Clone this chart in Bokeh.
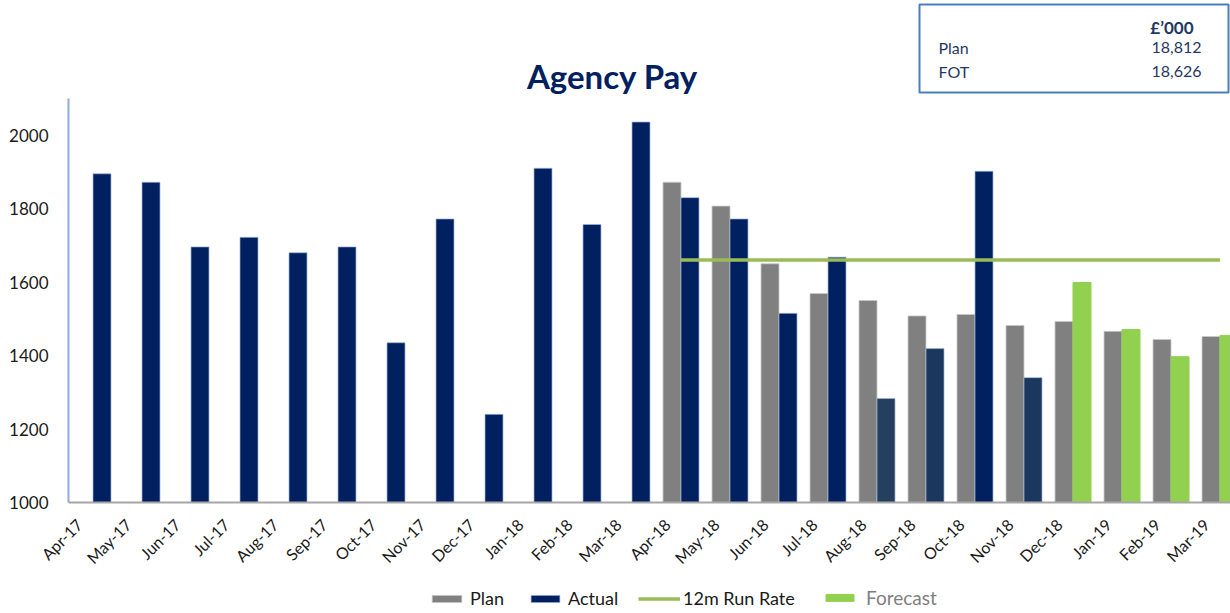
import numpy as np
from bokeh.plotting import figure
from bokeh.layouts import column
from bokeh.models import (Range1d, FixedTicker, LinearAxis, Label, BoxAnnotation,
                          Legend, LegendItem, ColumnDataSource)
from bokeh.transform import dodge
from bokeh.embed import file_html
from bokeh.resources import INLINE

# ---------------- data ----------------
months = ["Apr-17", "May-17", "Jun-17", "Jul-17", "Aug-17", "Sep-17", "Oct-17", "Nov-17",
          "Dec-17", "Jan-18", "Feb-18", "Mar-18", "Apr-18", "May-18", "Jun-18", "Jul-18",
          "Aug-18", "Sep-18", "Oct-18", "Nov-18", "Dec-18", "Jan-19", "Feb-19", "Mar-19"]

plan_months = months[12:]
plan = [1872, 1807, 1650, 1569, 1550, 1508, 1512, 1482, 1493, 1466, 1444, 1452]

actual_months = months[:20]
actual = [1895, 1872, 1696, 1722, 1680, 1696, 1435, 1772, 1240, 1910, 1757, 2036,
          1830, 1772, 1515, 1668, 1283, 1419, 1902, 1340]

forecast_months = months[20:]
forecast = [1599, 1471, 1397, 1455]

run_rate_months = ["Apr-18", "Mar-19"]
run_rate = [1660, 1660]

y_ticks = [1000, 1200, 1400, 1600, 1800, 2000]

table_rows = ["Plan", "FOT"]
table_values = ["18,812", "18,626"]
table_header = "\u00a3\u2019000"

# ---------------- styles ----------------
NAVY = "#002060"
actual_colors = [NAVY] * 16 + ["#243F60", "#1B375E", NAVY, "#1B375E"]
GREY = "#808080"
GREEN = "#92D050"
LINE_GREEN = "#9BBB59"
TXT = "#1F3864"
FONT = "Lato"

idx = {m: i for i, m in enumerate(months)}

W = 1230
HEAD_H, MAIN_H, FOOT_H = 98, 480, 35
LEFT = 68
FRAME_H = 404
CAT_PX = 49.0
x_end = -0.5 + (W - LEFT) / CAT_PX


def bare(fig):
    fig.outline_line_color = None
    fig.background_fill_color = "white"
    fig.border_fill_color = "white"
    fig.xgrid.visible = False
    fig.ygrid.visible = False


# ---------------- head strip: title + summary box (x in page pixels) ----------------
head = figure(width=W, height=HEAD_H, output_backend="svg", toolbar_location=None,
              x_range=Range1d(LEFT, W), y_range=Range1d(0, HEAD_H),
              min_border_left=LEFT, min_border_right=0, min_border_top=0,
              min_border_bottom=0, x_axis_location=None, y_axis_location=None)
bare(head)
head.add_layout(Label(x=612, y=23, text="Agency Pay", text_font=FONT,
                      text_font_style="bold", text_font_size="33px", text_color=NAVY,
                      text_align="center", text_baseline="middle"))
head.add_layout(BoxAnnotation(left=919, right=1228, top=94, bottom=6, fill_alpha=0,
                              line_color="#4A7EBB", line_alpha=1, line_width=2))
head.add_layout(Label(x=1193, y=71, text=table_header, text_font=FONT,
                      text_font_style="bold", text_font_size="17px", text_color=TXT,
                      text_align="right", text_baseline="middle"))
for k, (lab, val) in enumerate(zip(table_rows, table_values)):
    yy = 51 - 24 * k
    head.add_layout(Label(x=938, y=yy, text=lab, text_font=FONT, text_font_size="16px",
                          text_color=TXT, text_align="left", text_baseline="middle"))
    head.add_layout(Label(x=1201, y=yy, text=val, text_font=FONT, text_font_size="16px",
                          text_color=TXT, text_align="right", text_baseline="middle"))

# ---------------- main chart ----------------
p = figure(width=W, height=MAIN_H, output_backend="svg", toolbar_location=None,
           x_range=Range1d(-0.5, x_end), y_range=Range1d(1000, 2100),
           min_border_left=LEFT, min_border_right=0, min_border_top=0,
           min_border_bottom=MAIN_H - FRAME_H, x_axis_location=None)
bare(p)

shift = 0.28
p.extra_x_ranges = {"lab": Range1d(-0.5 + shift, x_end + shift)}
xaxis = LinearAxis(x_range_name="lab")
xaxis.ticker = FixedTicker(ticks=list(range(len(months))))
xaxis.major_label_overrides = {i: m for i, m in enumerate(months)}
xaxis.major_label_orientation = np.pi / 4
xaxis.major_tick_line_color = None
xaxis.major_tick_out = 0
xaxis.major_tick_in = 0
xaxis.minor_tick_line_color = None
xaxis.axis_line_color = "#A6A6A6"
xaxis.axis_line_width = 2
xaxis.major_label_text_font = FONT
xaxis.major_label_text_font_size = "16px"
xaxis.major_label_text_color = "#1a1a1a"
xaxis.major_label_standoff = 19
p.add_layout(xaxis, "below")

yaxis = p.yaxis[0]
yaxis.ticker = FixedTicker(ticks=y_ticks)
yaxis.major_tick_line_color = None
yaxis.major_tick_out = 0
yaxis.major_tick_in = 0
yaxis.minor_tick_line_color = None
yaxis.axis_line_color = "#8FAADC"
yaxis.axis_line_width = 2
yaxis.major_label_text_font = FONT
yaxis.major_label_text_font_size = "17px"
yaxis.major_label_text_color = "#1a1a1a"
yaxis.major_label_standoff = 20

BW = 18.0 / CAT_PX
OFF = BW / 2

plan_src = ColumnDataSource(dict(x=[idx[m] for m in plan_months], top=plan))
act_src = ColumnDataSource(dict(x=[idx[m] for m in actual_months], top=actual,
                                color=actual_colors))
fc_src = ColumnDataSource(dict(x=[idx[m] for m in forecast_months], top=forecast))
rr_src = ColumnDataSource(dict(x=[idx[m] for m in run_rate_months], y=run_rate))

plan_style = dict(fill_color=GREY, line_color="#C8C8C8", line_width=1, line_alpha=0.8)
act_style = dict(line_color="#9FB4D8", line_width=1, line_alpha=0.7)
fc_style = dict(fill_color=GREEN, line_color=GREEN)
rr_style = dict(line_color=LINE_GREEN, line_width=3.5)

p.vbar(x=dodge("x", -OFF, range=p.x_range), top="top", bottom=1000, width=BW,
       source=plan_src, **plan_style)
p.vbar(x=dodge("x", OFF, range=p.x_range), top="top", bottom=1000, width=BW,
       source=act_src, fill_color="color", **act_style)
p.vbar(x=dodge("x", OFF, range=p.x_range), top="top", bottom=1000, width=BW,
       source=fc_src, **fc_style)
p.line(x="x", y="y", source=rr_src, **rr_style)

# ---------------- foot strip: legend ----------------
# The legend's key glyphs come from renderers on the same data; this strip's ranges
# keep their marks far outside its visible area, so only the legend shows.
foot = figure(width=W, height=FOOT_H, output_backend="svg", toolbar_location=None,
              x_range=Range1d(-5000, -5000 + (W - LEFT)), y_range=Range1d(-9000, -9000 + FOOT_H),
              min_border_left=LEFT, min_border_right=0, min_border_top=0,
              min_border_bottom=0, x_axis_location=None, y_axis_location=None)
bare(foot)
k_plan = foot.vbar(x="x", top="top", bottom=1000, width=BW, source=plan_src, **plan_style)
k_act = foot.vbar(x="x", top="top", bottom=1000, width=BW, source=act_src,
                  fill_color=NAVY, **act_style)
k_rr = foot.line(x="x", y="y", source=rr_src, **rr_style)
k_fc = foot.vbar(x="x", top="top", bottom=1000, width=BW, source=fc_src, **fc_style)

leg_specs = [
    ("Plan", k_plan, 428, 37, 5, "#1a1a1a", "18px"),
    ("Actual", k_act, 527, 36, 5, "#1a1a1a", "18px"),
    ("12m Run Rate", k_rr, 638, 42, 3, "#1a1a1a", "18px"),
    ("Forecast", k_fc, 822, 35, 9, "#7F7F7F", "19px"),
]
for lab, rend, lx, gw, so, col, fs in leg_specs:
    lg = Legend(items=[LegendItem(label=lab, renderers=[rend], index=0)],
                location=(lx - LEFT, 4), orientation="horizontal",
                glyph_width=gw, glyph_height=9, label_standoff=so,
                label_text_font=FONT, label_text_font_size=fs,
                label_text_color=col, label_height=16, padding=0, margin=0,
                spacing=0, border_line_alpha=0, background_fill_alpha=0)
    foot.add_layout(lg, "center")

layout = column(head, p, foot, spacing=0)
open("out.html", "w").write(file_html(layout, INLINE))
